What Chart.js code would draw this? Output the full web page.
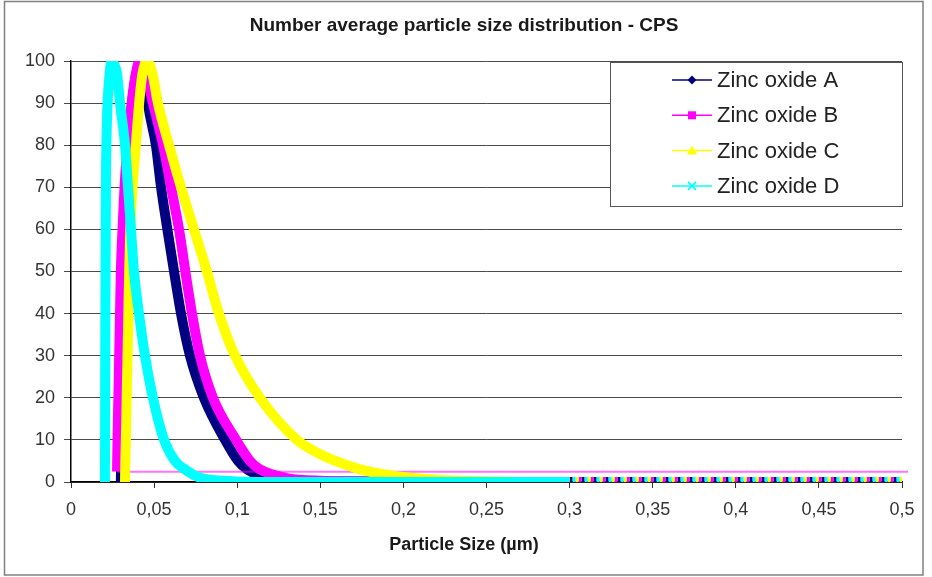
<!DOCTYPE html>
<html><head><meta charset="utf-8">
<script src="https://cdn.jsdelivr.net/npm/chart.js@4/dist/chart.umd.min.js"></script>
<style>html,body{margin:0;padding:0;background:#fff;} #wrap{width:932px;height:577px;position:relative;}</style>
</head><body><div id="wrap"><canvas id="c" width="932" height="577"></canvas></div>
<script>
// ---- data ----
const chartTitle = 'Number average particle size distribution - CPS';
const xAxisTitle = 'Particle Size (µm)';
const seriesNames = ['Zinc oxide A', 'Zinc oxide B', 'Zinc oxide C', 'Zinc oxide D'];

const zincA_x = [0.0300, 0.0301, 0.0303, 0.0308, 0.0316, 0.0330, 0.0345, 0.0360, 0.0380, 0.0400, 0.0425, 0.0445, 0.0463, 0.0511, 0.0542, 0.0580, 0.0620, 0.0662, 0.0716, 0.0800, 0.0927, 0.1005, 0.1060, 0.1167, 0.1350, 0.1700, 0.2200, 0.3000, 0.4000, 0.5000];
const zincA_y = [0, 3, 10, 30, 50, 65, 78, 87, 94, 98, 100, 97, 90, 80, 70, 60, 50, 40, 30, 20, 10, 5, 3, 1, 0.3, 0.1, 0, 0, 0, 0];

const zincB_x = [0.0277, 0.0280, 0.0285, 0.0290, 0.0295, 0.0300, 0.0310, 0.0322, 0.0340, 0.0365, 0.0390, 0.0415, 0.0450, 0.0493, 0.0554, 0.0602, 0.0650, 0.0688, 0.0728, 0.0776, 0.0854, 0.0993, 0.1077, 0.1137, 0.1288, 0.1500, 0.1900, 0.2500, 0.3000, 0.4000, 0.5000];
const zincB_y = [2.5, 10, 20, 30, 40, 50, 60, 70, 80, 90, 97, 100, 97, 90, 80, 70, 60, 50, 40, 30, 20, 10, 5, 3, 1, 0.3, 0.1, 0, 0, 0, 0];

const zincC_x = [0.0325, 0.0327, 0.0330, 0.0335, 0.0340, 0.0345, 0.0350, 0.0357, 0.0370, 0.0390, 0.0410, 0.0430, 0.0457, 0.0490, 0.0523, 0.0590, 0.0662, 0.0740, 0.0818, 0.0890, 0.0987, 0.1137, 0.1360, 0.1480, 0.1590, 0.1740, 0.1860, 0.2040, 0.2220, 0.2460, 0.3000, 0.4000, 0.5000];
const zincC_y = [0, 5, 10, 20, 30, 40, 50, 60, 70, 80, 90, 97, 100, 97, 90, 80, 70, 60, 50, 40, 30, 20, 10, 7, 5, 3, 2, 1, 0.5, 0.2, 0, 0, 0];

const zincD_x = [0.0204, 0.0205, 0.0206, 0.0208, 0.0210, 0.0213, 0.0218, 0.0228, 0.0245, 0.0262, 0.0277, 0.0295, 0.0325, 0.0343, 0.0361, 0.0379, 0.0409, 0.0445, 0.0493, 0.0560, 0.0626, 0.0686, 0.0776, 0.0927, 0.1100, 0.2000, 0.3000, 0.4000, 0.5000];
const zincD_y = [0, 10, 30, 50, 70, 80, 88, 95, 100, 99, 97, 90, 80, 70, 60, 50, 40, 30, 20, 10, 5, 3, 1, 0.3, 0, 0, 0, 0, 0];

// stray horizontal segment of series B
const zincB_stray_x = [0.0277, 0.5036];
const zincB_stray_y = [2.45, 2.45];

const xMin = 0, xMax = 0.5, xStep = 0.05;
const yMin = 0, yMax = 100, yStep = 10;

// ---- styles ----
const FONT = "'Liberation Sans', Arial, sans-serif";
const colors = ['#000080', '#ff00ff', '#ffff00', '#00ffff'];
const markers = ['diamond', 'square', 'triangle', 'cross'];
const TAIL = 0.27;

function pts(xs, ys) { return xs.map((x, i) => ({ x: x, y: ys[i] })); }
function tailSeg(offset) {
  return {
    borderDash: ctx => (ctx.p0.parsed.x >= TAIL ? [3, 9] : undefined),
    borderDashOffset: ctx => (ctx.p0.parsed.x >= TAIL ? offset : undefined)
  };
}
function series(i, xs, ys, order) {
  return {
    label: seriesNames[i], data: pts(xs, ys),
    borderColor: colors[i], backgroundColor: colors[i],
    borderWidth: 10, borderJoinStyle: 'round', borderCapStyle: 'butt',
    pointRadius: 0, cubicInterpolationMode: 'monotone', order: order,
    segment: tailSeg(i * 3)
  };
}

function drawMarker(ctx, type, x, y, color) {
  ctx.save();
  ctx.fillStyle = color; ctx.strokeStyle = color; ctx.lineWidth = 1.6;
  ctx.beginPath();
  if (type === 'diamond') {
    ctx.moveTo(x, y - 4.5); ctx.lineTo(x + 4.5, y); ctx.lineTo(x, y + 4.5); ctx.lineTo(x - 4.5, y); ctx.closePath(); ctx.fill();
  } else if (type === 'square') {
    ctx.rect(x - 4, y - 4, 8, 8); ctx.fill();
  } else if (type === 'triangle') {
    ctx.moveTo(x, y - 5); ctx.lineTo(x + 5, y + 4); ctx.lineTo(x - 5, y + 4); ctx.closePath(); ctx.fill();
  } else {
    ctx.moveTo(x - 4, y - 4); ctx.lineTo(x + 4, y + 4); ctx.moveTo(x + 4, y - 4); ctx.lineTo(x - 4, y + 4); ctx.stroke();
  }
  ctx.restore();
}

const framePlugin = {
  id: 'frame',
  beforeDraw(chart) {
    const ctx = chart.ctx;
    ctx.save(); ctx.fillStyle = '#fff'; ctx.fillRect(0, 0, chart.width, chart.height); ctx.restore();
  },
  afterDraw(chart) {
    const ctx = chart.ctx;
    ctx.save();
    const lx = 610.5, ly = 62.5, lw = 292, lh = 144;
    ctx.fillStyle = '#fff'; ctx.fillRect(lx, ly, lw, lh);
    ctx.strokeStyle = '#555'; ctx.lineWidth = 1; ctx.strokeRect(lx, ly, lw, lh);
    ctx.font = '22px ' + FONT; ctx.textBaseline = 'middle'; ctx.textAlign = 'left';
    chart.data.datasets.slice(0, 4).forEach((ds, i) => {
      const y = 80 + i * 35.3;
      ctx.strokeStyle = colors[i]; ctx.lineWidth = 1.5;
      ctx.beginPath(); ctx.moveTo(672, y); ctx.lineTo(712, y); ctx.stroke();
      drawMarker(ctx, markers[i], 692, y, colors[i]);
      ctx.fillStyle = '#222'; ctx.fillText(ds.label, 717, y + 1);
    });
    ctx.strokeStyle = '#808080'; ctx.lineWidth = 1.5;
    ctx.strokeRect(4.5, 1.5, 918.5, 573.5);
    ctx.restore();
  }
};

new Chart(document.getElementById('c'), {
  type: 'line',
  data: {
    datasets: [
      series(0, zincA_x, zincA_y, 4),
      series(1, zincB_x, zincB_y, 3),
      series(2, zincC_x, zincC_y, 2),
      series(3, zincD_x, zincD_y, 1),
      { label: '', data: pts(zincB_stray_x, zincB_stray_y), borderColor: 'rgba(255,0,255,0.55)', borderWidth: 2,
        pointRadius: 0, order: 3, clip: { left: 10, right: 10, top: 10, bottom: 10 } }
    ]
  },
  options: {
    responsive: false, animation: false,
    layout: { padding: { left: 26, right: 30, top: 0, bottom: 0 } },
    plugins: {
      legend: { display: false },
      tooltip: { enabled: false },
      title: { display: true, text: chartTitle, color: '#1a1a1a',
        font: { family: FONT, size: 19, weight: 'bold', lineHeight: 1.2 },
        padding: { top: 14, bottom: 24.2 } },
      subtitle: { display: true, position: 'bottom', text: xAxisTitle, color: '#1a1a1a',
        font: { family: FONT, size: 18, weight: 'bold', lineHeight: 1.2 },
        padding: { top: 13.6, bottom: 21.2 } }
    },
    scales: {
      x: {
        type: 'linear', min: xMin, max: xMax,
        ticks: { stepSize: xStep, color: '#333', padding: 11, maxRotation: 0, autoSkip: false,
          font: { family: FONT, size: 18, lineHeight: 1.2 },
          callback: v => String(+(+v).toFixed(2)).replace('.', ',') },
        grid: { drawOnChartArea: false, drawTicks: true, tickLength: 6, color: '#333', lineWidth: 1 },
        border: { display: true, color: '#000', width: 1.5 },
        afterFit: s => { s.height = 38.6; }
      },
      y: {
        min: yMin, max: yMax,
        ticks: { stepSize: yStep, color: '#333', padding: 9,
          font: { family: FONT, size: 18, lineHeight: 1.2 } },
        grid: { color: '#4a4a4a', lineWidth: 1, tickLength: 7, drawTicks: true },
        border: { display: true, color: '#000', width: 1.5 },
        afterFit: s => { s.width = 45; }
      }
    }
  },
  plugins: [framePlugin]
});
</script>
</body></html>
